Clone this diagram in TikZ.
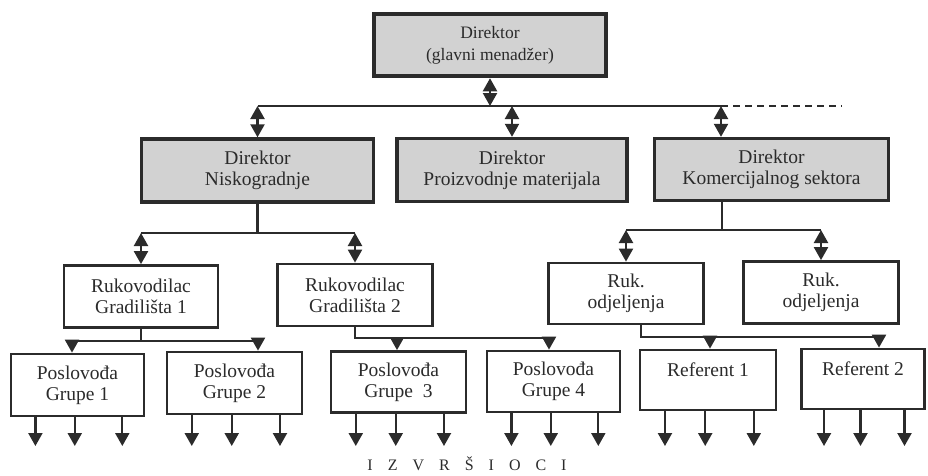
\documentclass[tikz,border=0pt]{standalone}
\usepackage{fontspec}
\setmainfont{Liberation Serif}
\usetikzlibrary{arrows.meta,calc}
\definecolor{Ink}{HTML}{2B2B2B}
\definecolor{BoxGray}{HTML}{D2D2D2}

\begin{document}
\begin{tikzpicture}[x=1pt,y=-1pt,>={Triangle[length=13pt,width=14pt]}]
    \tikzset{
      head/.style={draw=Ink,line width=4.5pt,fill=BoxGray,text=Ink,
        align=center,inner sep=0pt,font=\fontsize{17.5}{22}\selectfont},
      manager/.style={draw=Ink,line width=3.4pt,fill=BoxGray,text=Ink,
        align=center,inner sep=0pt,font=\fontsize{19.5}{21}\selectfont},
      unit/.style={draw=Ink,line width=2.8pt,fill=white,text=Ink,
        align=center,inner sep=0pt,font=\fontsize{19.5}{21}\selectfont},
      bus/.style={draw=Ink,line width=2.2pt},
      dbl/.style={bus,<->},
      down/.style={bus,->}
    }
    \useasboundingbox (0,0) rectangle (928,475);
    % vrh
    \node[head,minimum width=232pt,minimum height=62pt] (dir) at (490,45)
      {Direktor\\(glavni menadžer)};
    % direktori sektora
    \node[manager,minimum width=232pt,minimum height=63pt] (nisko) at (257.5,170.5)
      {Direktor\\Niskogradnje};
    \node[manager,minimum width=230pt,minimum height=63pt] (proiz) at (512,170)
      {Direktor\\Proizvodnje materijala};
    \node[manager,minimum width=234pt,minimum height=62pt] (kom) at (771.5,169.5)
      {Direktor\\Komercijalnog sektora};
    % rukovodioci
    \node[unit,minimum width=154pt,minimum height=62pt] (grad1) at (141,296.5)
      {Rukovodilac\\Gradilišta 1};
    \node[unit,minimum width=155pt,minimum height=62pt] (grad2) at (355,295)
      {Rukovodilac\\Gradilišta 2};
    \node[unit,minimum width=155pt,minimum height=61pt] (ruk1) at (626,293.5)
      {Ruk.\\odjeljenja};
    \node[unit,minimum width=155pt,minimum height=62pt] (ruk2) at (821,292.5)
      {Ruk.\\odjeljenja};
    % poslovodje i referenti
    \node[unit,minimum width=133pt,minimum height=62pt] (g1) at (77.5,385)
      {Poslovođa\\Grupe 1};
    \node[unit,minimum width=135pt,minimum height=62pt] (g2) at (234.5,383)
      {Poslovođa\\Grupe 2};
    \node[unit,minimum width=135pt,minimum height=61pt] (g3) at (398.5,382)
      {Poslovođa\\Grupe\ \ 3};
    \node[unit,minimum width=133pt,minimum height=61pt] (g4) at (553.5,381.5)
      {Poslovođa\\Grupe 4};
    \node[unit,minimum width=136pt,minimum height=60pt] (ref1) at (708,380)
      {Referent 1\\\phantom{G}};
    \node[unit,minimum width=123pt,minimum height=60pt] (ref2) at (863,379)
      {Referent 2\\\phantom{G}};
    \node[text=Ink,font=\fontsize{16}{18}\selectfont] (izvrsioci) at (467,464)
      {I\hspace{15pt}Z\hspace{15pt}V\hspace{15pt}R\hspace{15pt}Š\hspace{15pt}I\hspace{15pt}O\hspace{15pt}C\hspace{15pt}I};

    % glavna sabirnica
    \coordinate (topbus) at (490,106);
    \coordinate (kombus) at (721,106);
    \coordinate (busend) at (842,106);
    \draw[dbl] (dir.south) -- (topbus);
    \draw[bus] (nisko.north |- topbus) -- (kombus);
    \draw[bus,dashed,dash pattern=on 7pt off 5pt] (kombus) -- (busend);
    \draw[dbl] (nisko.north |- topbus) -- (nisko.north);
    \draw[dbl] (proiz.north |- topbus) -- (proiz.north);
    \draw[dbl] (kombus) -- (kombus |- kom.north);

    % niskogradnja
    \coordinate (niskobus) at (257.5,233);
    \draw[bus] (nisko.south) -- (niskobus);
    \draw[bus] (grad1.north |- niskobus) -- (grad2.north |- niskobus);
    \draw[dbl] (grad1.north |- niskobus) -- (grad1.north);
    \draw[dbl] (grad2.north |- niskobus) -- (grad2.north);

    % komercijala
    \coordinate (kombus2) at (722,230);
    \draw[bus] (kombus2 |- kom.south) -- (kombus2);
    \draw[bus] (ruk1.north |- kombus2) -- (ruk2.north |- kombus2);
    \draw[dbl] (ruk1.north |- kombus2) -- (ruk1.north);
    \draw[dbl] (ruk2.north |- kombus2) -- (ruk2.north);

    % gradiliste 1
    \coordinate (g1in) at (72,341);
    \coordinate (g2in) at (258,341);
    \draw[bus] (grad1.south) -- (grad1.south |- g1in);
    \draw[bus] (g1in) -- (g2in);
    \draw[down] (g1in) -- (g1in |- g1.north);
    \draw[down] (g2in) -- (g2in |- g2.north);

    % gradiliste 2
    \coordinate (g3in) at (397,338);
    \coordinate (g4in) at (549,338);
    \draw[bus] (grad2.south) -- (grad2.south |- g3in) -- (g4in);
    \draw[down] (g3in) -- (g3in |- g3.north);
    \draw[down] (g4in) -- (g4in |- g4.north);

    % odjeljenje
    \coordinate (r1out) at (641,337);
    \coordinate (ref1in) at (710,337);
    \coordinate (ref2in) at (879,337);
    \draw[bus] (r1out |- ruk1.south) -- (r1out) -- (ref2in);
    \draw[down] (ref1in) -- (ref1in |- ref1.north);
    \draw[down] (ref2in) -- (ref2in |- ref2.north);

    % izvrsioci
    \coordinate (tipline) at (0,446);
    \foreach \b in {g1,g2,g3,g4,ref1,ref2}
      \foreach \f in {0.19,0.48,0.83}
        \draw[down] ($(\b.south west)!\f!(\b.south east)$) coordinate (p) -- (p |- tipline);
  \end{tikzpicture}
\end{document}
